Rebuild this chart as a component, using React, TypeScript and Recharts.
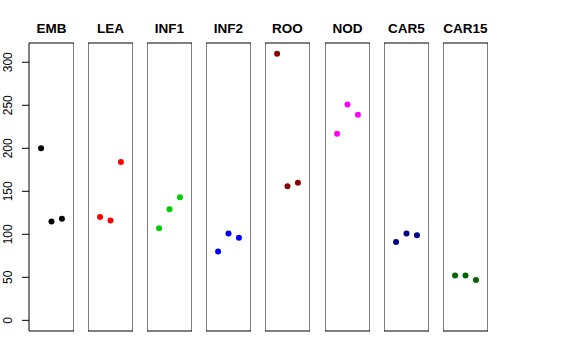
import React from 'react';
import { ScatterChart, Scatter, XAxis, YAxis, ReferenceArea } from 'recharts';

const tissues = ['EMB', 'LEA', 'INF1', 'INF2', 'ROO', 'NOD', 'CAR5', 'CAR15'];
const colors = ['#000000', '#FF0000', '#00CD00', '#0000FF', '#8B0000', '#FF00FF', '#00008B', '#006400'];
const replicates = [1, 2, 3];

// values per tissue, one per replicate
const emb = [200, 115, 118];
const lea = [120, 116, 184];
const inf1 = [107, 129, 143];
const inf2 = [80, 101, 96];
const roo = [310, 156, 160];
const nod = [217, 251, 239];
const car5 = [91, 101, 99];
const car15 = [52, 52, 47];

const seriesValues = [emb, lea, inf1, inf2, roo, nod, car5, car15];
const yTicks = [0, 50, 100, 150, 200, 250, 300];

const X_DOMAIN: [number, number] = [-0.16, 4.16];
const Y_DOMAIN: [number, number] = [-12.4, 322.4];

const PLOT_LEFT = 29;
const PANEL_STEP = 59.1;
const PANEL_W = 45;
const AXIS_W = 29;
const FONT = '"Liberation Sans", Arial, Helvetica, sans-serif';

const renderTick = (props: any) => {
  const { y, payload } = props;
  return (
    <text
      x={12}
      y={y}
      transform={`rotate(-90 12 ${y})`}
      textAnchor="middle"
      fontSize={12}
      fontFamily={FONT}
      fill="#000"
    >
      {payload.value}
    </text>
  );
};

const Panel = ({ index }: { index: number }) => {
  const first = index === 0;
  const axisW = first ? AXIS_W : 0;
  const left = Math.round(PLOT_LEFT + index * PANEL_STEP) - axisW;
  const values = seriesValues[index];
  const data = replicates.map((rep, j) => ({ rep, value: values[j] }));
  const color = colors[index];

  return (
    <div style={{ position: 'absolute', left, top: 0 }}>
      <div
        style={{
          position: 'absolute',
          left: axisW - 10,
          width: PANEL_W + 20,
          top: 22,
          lineHeight: '14px',
          textAlign: 'center',
          fontFamily: FONT,
          fontWeight: 'bold',
          fontSize: 13.5,
          color: '#000',
        }}
      >
        {tissues[index]}
      </div>
      <ScatterChart
        width={PANEL_W + axisW}
        height={360}
        margin={{ top: 43, bottom: 29, left: 0, right: 0 }}
      >
        <XAxis type="number" dataKey="rep" domain={X_DOMAIN} hide allowDataOverflow />
        <YAxis
          type="number"
          dataKey="value"
          domain={Y_DOMAIN}
          ticks={yTicks}
          interval={0}
          hide={!first}
          width={AXIS_W}
          axisLine={false}
          tickSize={7}
          tickLine={{ stroke: '#000' }}
          tick={renderTick}
          allowDataOverflow
        />
        <ReferenceArea
          x1={X_DOMAIN[0]}
          x2={X_DOMAIN[1]}
          y1={Y_DOMAIN[0]}
          y2={Y_DOMAIN[1]}
          fill="none"
          stroke="#000"
          strokeWidth={1}
        />
        <Scatter
          data={data}
          isAnimationActive={false}
          shape={(p: any) => <circle cx={p.cx} cy={p.cy} r={3} fill={color} />}
        />
      </ScatterChart>
    </div>
  );
};

const App = () => {
  return (
    <div style={{ position: 'absolute', left: 0, top: 0, width: 576, height: 360, background: '#fff' }}>
      {tissues.map((t, i) => (
        <Panel key={t} index={i} />
      ))}
    </div>
  );
};

export default App;
